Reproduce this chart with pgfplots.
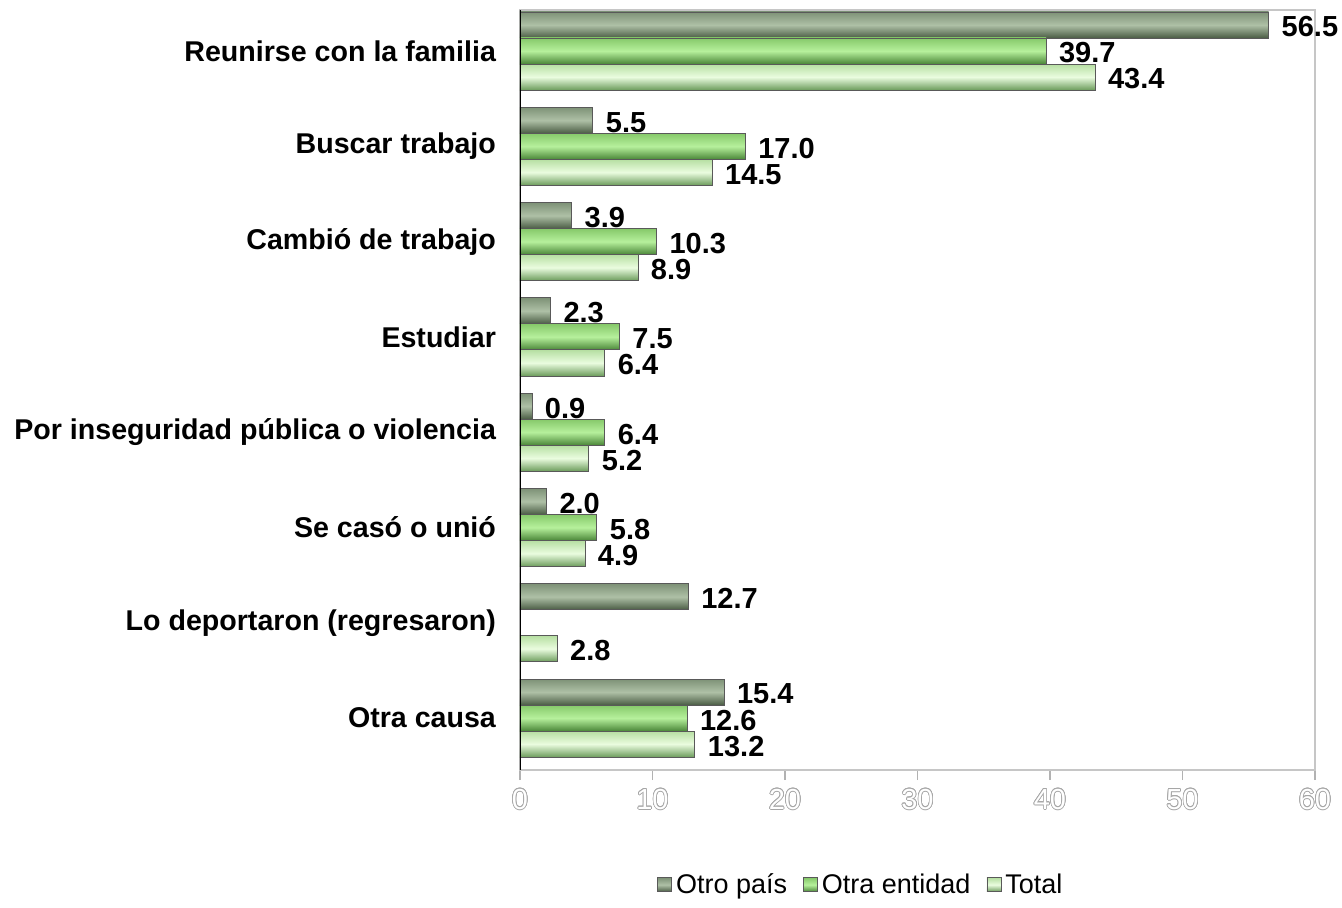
\documentclass[border=0pt]{standalone}
\usepackage{pgfplots}
\pgfplotsset{compat=1.18}
\usepackage{fontspec}
\setmainfont{Liberation Sans}
\usepackage{contour}
\contourlength{0.35pt}
\definecolor{opL}{HTML}{AEC0A6}
\definecolor{opM}{HTML}{7E9277}
\definecolor{opD}{HTML}{4A5C44}
\definecolor{oeL}{HTML}{B6F09C}
\definecolor{oeM}{HTML}{86C96A}
\definecolor{oeD}{HTML}{4A8638}
\definecolor{toL}{HTML}{EAFCDF}
\definecolor{toM}{HTML}{B6DFA2}
\definecolor{toD}{HTML}{6C9C5C}
\pgfplotsset{
  op/.style={bar shift=-0.273, draw=black!65, top color=opM, bottom color=opD, middle color=opL},
  oe/.style={bar shift=0, draw=black!65, top color=oeM, bottom color=oeD, middle color=oeL},
  to/.style={bar shift=0.273, draw=black!65, top color=toM, bottom color=toD, middle color=toL},
}
\begin{document}
\begin{tikzpicture}
\begin{axis}[
  at={(0pt,0pt)}, anchor=south west,
  scale only axis, width=397.5pt, height=380pt,
  xbar, y dir=reverse,
  xmin=0, xmax=60, ymin=-0.43, ymax=7.545,
  bar width=0.273,
  /pgf/number format/assume math mode=true,
  xtick={0,10,...,60},
  xtick pos=lower, xtick align=outside,
  major tick length=5pt,
  xtick style={gray!60, line width=0.6pt},
  xticklabel={\contour{gray!70}{\textcolor{white}{\pgfmathprintnumber{\tick}}}},
  xticklabel style={font=\fontsize{14.5}{16}\selectfont, yshift=-1pt},
  ytick={0,...,7},
  yticklabels={Reunirse con la familia, Buscar trabajo, Cambió de trabajo, Estudiar, Por inseguridad pública o violencia, Se casó o unió, Lo deportaron (regresaron), Otra causa},
  ytick style={draw=none},
  yticklabel style={font=\bfseries\fontsize{14.3}{16}\selectfont, xshift=-3.5pt},
  axis line style={gray!45, line width=0.6pt},
  point meta=x,
  nodes near coords={\pgfmathprintnumber[fixed,fixed zerofill,precision=1,assume math mode=true]{\pgfplotspointmeta}},
  nodes near coords style={text=black, font=\bfseries\fontsize{14.5}{16}\selectfont, anchor=west, xshift=3pt, yshift=-1pt},
  legend style={draw=none, at={(0.43,-0.151)}, anchor=center, legend columns=3,
    font=\fontsize{13.5}{16}\selectfont,
    /tikz/every even column/.append style={column sep=6pt}},
  legend image code/.code={\draw[#1] (0pt,-3.5pt) rectangle (7pt,3.5pt);},
]
\addlegendimage{op}\addlegendentry{Otro país}
\addlegendimage{oe}\addlegendentry{Otra entidad}
\addlegendimage{to}\addlegendentry{Total}
% Otro país
\addplot[op, forget plot] coordinates {(56.5,0)};
\addplot[op, forget plot] coordinates {(5.5,1)};
\addplot[op, forget plot] coordinates {(3.9,2)};
\addplot[op, forget plot] coordinates {(2.3,3)};
\addplot[op, forget plot] coordinates {(0.9,4)};
\addplot[op, forget plot] coordinates {(2.0,5)};
\addplot[op, forget plot] coordinates {(12.7,6)};
\addplot[op, forget plot] coordinates {(15.4,7)};
% Otra entidad
\addplot[oe, forget plot] coordinates {(39.7,0)};
\addplot[oe, forget plot] coordinates {(17.0,1)};
\addplot[oe, forget plot] coordinates {(10.3,2)};
\addplot[oe, forget plot] coordinates {(7.5,3)};
\addplot[oe, forget plot] coordinates {(6.4,4)};
\addplot[oe, forget plot] coordinates {(5.8,5)};
\addplot[oe, forget plot] coordinates {(12.6,7)};
% Total
\addplot[to, forget plot] coordinates {(43.4,0)};
\addplot[to, forget plot] coordinates {(14.5,1)};
\addplot[to, forget plot] coordinates {(8.9,2)};
\addplot[to, forget plot] coordinates {(6.4,3)};
\addplot[to, forget plot] coordinates {(5.2,4)};
\addplot[to, forget plot] coordinates {(4.9,5)};
\addplot[to, forget plot] coordinates {(2.8,6)};
\addplot[to, forget plot] coordinates {(13.2,7)};
\draw[black, line width=1.5pt] (rel axis cs:0,0) -- (rel axis cs:0,1);
\end{axis}
\pgfresetboundingbox
\path (-260pt,-68.5pt) rectangle (411pt,385pt);
\end{tikzpicture}
\end{document}
